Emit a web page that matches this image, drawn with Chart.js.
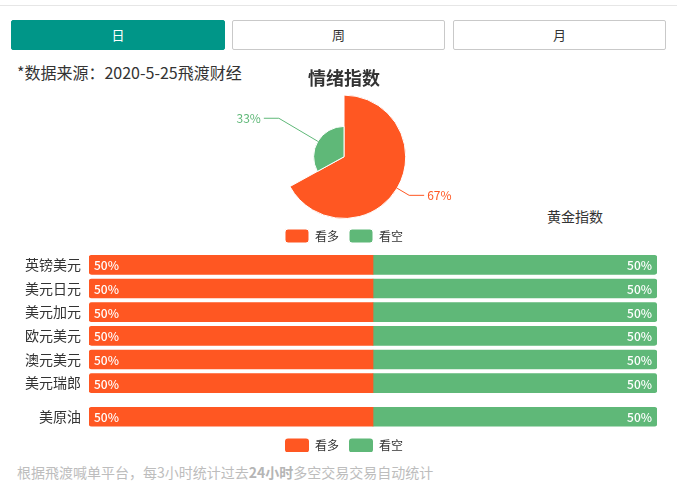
<!DOCTYPE html>
<html>
<head>
<meta charset="utf-8">
<script src="https://cdn.jsdelivr.net/npm/chart.js@4"></script>
<style>
  html, body { margin: 0; padding: 0; background: #fff; width: 677px; height: 493px; overflow: hidden;
    font-family: "Noto Sans CJK SC", "Noto Sans", sans-serif; }
  .topline { position: absolute; left: 0; top: 5px; width: 677px; height: 0; border-top: 1px solid #e6e6e6; }
  .btn { position: absolute; top: 20px; height: 30px; box-sizing: border-box; border: 1px solid #c9c9c9;
    border-radius: 2px; background: #fff; color: #333; font-size: 13px; line-height: 28px; text-align: center; }
  .btn.on { background: #009688; border-color: #009688; color: #fff; }
  .src { position: absolute; left: 17px; top: 61px; font-size: 16px; line-height: 22px; color: #333; white-space: nowrap; }
  .gold { position: absolute; left: 547px; top: 206px; font-size: 14px; line-height: 20px; color: #333; font-weight: 400; white-space: nowrap; }
  .foot { position: absolute; left: 17px; top: 462px; font-size: 14px; line-height: 20px; color: #bdbdbd; white-space: nowrap; }
  .foot b { color: #b5b5b5; font-weight: 700; }
  .box { position: absolute; }
  .box canvas { display: block; }
</style>
</head>
<body>
<div class="topline"></div>
<div class="btn on" style="left:11px;width:214px;">日</div>
<div class="btn" style="left:232px;width:213px;">周</div>
<div class="btn" style="left:453px;width:213px;">月</div>
<div class="src">*数据来源：2020-5-25飛渡财经</div>
<div class="gold">黄金指数</div>
<div class="box" style="left:200px;top:62px;"><canvas id="pie" width="288" height="191"></canvas></div>
<div class="box" style="left:0;top:253px;"><canvas id="bar" width="677" height="142"></canvas></div>
<div class="box" style="left:0;top:405px;"><canvas id="oil" width="677" height="47"></canvas></div>
<div class="foot">根据飛渡喊单平台，每3小时统计过去<b>24小时</b>多空交易交易自动统计</div>

<script>
// ---- data ----
const seriesNames = ['看多', '看空'];
const pieValues = [67, 33];
const pairLabels = ['英镑美元', '美元日元', '美元加元', '欧元美元', '澳元美元', '美元瑞郎'];
const pairBull = [50, 50, 50, 50, 50, 50];
const pairBear = [50, 50, 50, 50, 50, 50];
const oilLabels = ['美原油'];
const oilBull = [50];
const oilBear = [50];

const ORANGE = '#FF5722';
const GREEN = '#5FB878';
const FONT = '"Noto Sans CJK SC", "Noto Sans", sans-serif';

Chart.defaults.font.family = FONT;
Chart.defaults.animation = false;
Chart.defaults.responsive = false;
Chart.defaults.devicePixelRatio = 1;

// rose-type radius: arc radius proportional to value
const rosePlugin = {
  id: 'rose',
  afterDatasetsUpdate(chart) {
    const meta = chart.getDatasetMeta(0);
    const vals = chart.data.datasets[0].data;
    const max = Math.max(...vals);
    const R = meta.controller.outerRadius;
    meta.data.forEach((arc, i) => { arc.outerRadius = R * vals[i] / max; });
  },
  afterDatasetsDraw(chart) {
    const meta = chart.getDatasetMeta(0);
    const ds = chart.data.datasets[0];
    const vals = ds.data;
    const total = vals.reduce((a, b) => a + b, 0);
    const R = meta.controller.outerRadius;
    const ctx = chart.ctx;
    ctx.save();
    meta.data.forEach((arc, i) => {
      const mid = (arc.startAngle + arc.endAngle) / 2;
      const c = Math.cos(mid), s = Math.sin(mid);
      const x0 = arc.x + c * arc.outerRadius, y0 = arc.y + s * arc.outerRadius;
      const x1 = arc.x + c * (R + 14), y1 = arc.y + s * (R + 14);
      const dir = c >= 0 ? 1 : -1;
      const x2 = x1 + dir * 15;
      const col = ds.backgroundColor[i];
      ctx.strokeStyle = col;
      ctx.lineWidth = 1;
      ctx.beginPath();
      ctx.moveTo(x0, y0); ctx.lineTo(x1, y1); ctx.lineTo(x2, y1);
      ctx.stroke();
      ctx.fillStyle = col;
      ctx.font = '12px ' + FONT;
      ctx.textAlign = dir > 0 ? 'left' : 'right';
      ctx.textBaseline = 'middle';
      ctx.fillText(Math.round(vals[i] / total * 100) + '%', x2 + dir * 3, y1);
    });
    ctx.restore();
  }
};

new Chart(document.getElementById('pie'), {
  type: 'pie',
  data: {
    labels: seriesNames,
    datasets: [{ data: pieValues, backgroundColor: [ORANGE, GREEN], borderColor: '#fff', borderWidth: 1 }]
  },
  options: {
    layout: { padding: 0 },
    plugins: {
      title: { display: true, text: '情绪指数', color: '#333', font: { size: 18, weight: 'bold' }, padding: { top: 5, bottom: 6 } },
      legend: { position: 'bottom', labels: { boxWidth: 24, boxHeight: 14, padding: 10, color: '#333', font: { size: 12 }, useBorderRadius: true, borderRadius: 3 } },
      tooltip: { enabled: false }
    }
  },
  plugins: [rosePlugin]
});

const barLabelPlugin = {
  id: 'barLabels',
  afterDatasetsDraw(chart) {
    const ctx = chart.ctx;
    ctx.save();
    ctx.fillStyle = '#fff';
    ctx.font = '500 12px ' + FONT;
    ctx.textBaseline = 'middle';
    chart.data.datasets.forEach((ds, di) => {
      const meta = chart.getDatasetMeta(di);
      meta.data.forEach((bar, i) => {
        const txt = ds.data[i] + '%';
        if (di === 0) {
          ctx.textAlign = 'left';
          ctx.fillText(txt, Math.min(bar.x, bar.base) + 5, bar.y + 1);
        } else {
          ctx.textAlign = 'right';
          ctx.fillText(txt, Math.max(bar.x, bar.base) - 5, bar.y + 1);
        }
      });
    });
    ctx.restore();
  }
};

// leftPad: space left of the axis (only used to centre the legend); axis width fills the rest up to the bars
function barConfig(labels, bull, bear, showLegend, leftPad) {
  return {
    type: 'bar',
    data: {
      labels: labels,
      datasets: [
        { label: seriesNames[0], data: bull, backgroundColor: ORANGE, borderSkipped: false,
          borderRadius: { topLeft: 3, bottomLeft: 3, topRight: 0, bottomRight: 0 } },
        { label: seriesNames[1], data: bear, backgroundColor: GREEN, borderSkipped: false,
          borderRadius: { topLeft: 0, bottomLeft: 0, topRight: 3, bottomRight: 3 } }
      ]
    },
    options: {
      indexAxis: 'y',
      layout: { padding: { left: leftPad, right: 20, top: 0, bottom: 0 } },
      datasets: { bar: { categoryPercentage: 1, barPercentage: 0.8, barThickness: 19 } },
      scales: {
        x: { stacked: true, min: 0, max: 100, display: false },
        y: {
          stacked: true,
          grid: { display: false, drawTicks: false },
          border: { display: false },
          ticks: { color: '#333', font: { size: 14 }, padding: 8 },
          afterFit(scale) { scale.width = 89 - leftPad; scale.paddingTop = 0; scale.paddingBottom = 0; }
        }
      },
      plugins: {
        legend: { display: showLegend, position: 'bottom',
          labels: { boxWidth: 24, boxHeight: 14, padding: 10, color: '#333', font: { size: 12 }, useBorderRadius: true, borderRadius: 3 } },
        tooltip: { enabled: false }
      }
    },
    plugins: [barLabelPlugin]
  };
}

new Chart(document.getElementById('bar'), barConfig(pairLabels, pairBull, pairBear, false, 0));
new Chart(document.getElementById('oil'), barConfig(oilLabels, oilBull, oilBear, true, 31));
</script>
</body>
</html>
